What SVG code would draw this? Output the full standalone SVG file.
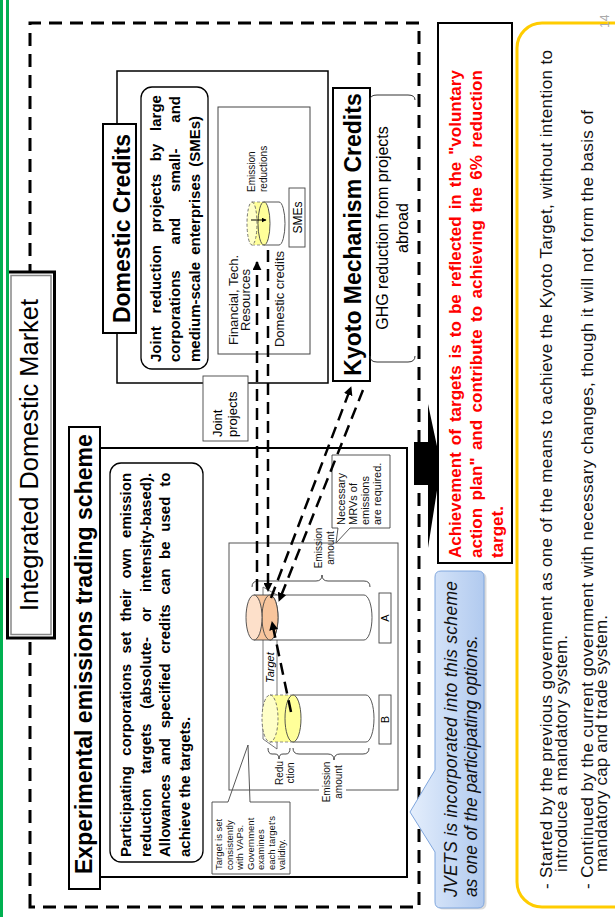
<svg xmlns="http://www.w3.org/2000/svg" width="615" height="917" viewBox="0 0 615 917">
<defs>
  <style>
    .f{font-family:"Liberation Sans",Arial,Helvetica,sans-serif}
    .b{font-weight:bold}
    .i{font-style:italic}
    .box{fill:#fff;stroke:#000;stroke-width:2}
    .thin{fill:#fff;stroke:#444;stroke-width:0.9}
    .dash{fill:none;stroke:#000;stroke-width:2.5;stroke-dasharray:12 7}
    .brace{fill:none;stroke:#333;stroke-width:0.9}
    .cyl{stroke:#444;stroke-width:0.9}
  </style>
  <marker id="arr" viewBox="0 0 10 10" refX="9" refY="5" markerWidth="3.6" markerHeight="3.6" orient="auto" markerUnits="strokeWidth">
    <path d="M0,0 L10,5 L0,10 z" fill="#000"/>
  </marker>
  <marker id="arrS" viewBox="0 0 10 10" refX="9" refY="5" markerWidth="5" markerHeight="5" orient="auto" markerUnits="strokeWidth">
    <path d="M0,0 L10,5 L0,10 z" fill="#000"/>
  </marker>
  <linearGradient id="blueFill" x1="0" y1="0" x2="0" y2="1">
    <stop offset="0" stop-color="#e4eefc"/>
    <stop offset="1" stop-color="#b1caef"/>
  </linearGradient>
</defs>

<rect x="0" y="0" width="615" height="917" fill="#fff"/>

<!-- slide content is laid out landscape and turned a quarter turn -->
<g transform="translate(0 917) rotate(-90)" class="f">

  <!-- outer dashed frame of the market -->
  <rect id="market-frame" x="10" y="30" width="884" height="389" fill="none" stroke="#000" stroke-width="3" stroke-dasharray="13 8"/>

  <!-- Experimental emissions trading scheme -->
  <g id="ets">
    <rect x="40" y="100" width="429" height="307" fill="#fff" stroke="#000" stroke-width="2"/>
    <rect x="28" y="69" width="462" height="31" class="box"/>
    <text x="43" y="92" font-size="23" class="b">Experimental emissions trading scheme</text>
    <rect x="55" y="110" width="399" height="93" rx="11" fill="#fff" stroke="#000" stroke-width="1.3"/>
    <g font-size="15" class="b">
      <text x="60" y="131" word-spacing="6.3">Participating corporations set their own emission</text>
      <text x="60" y="150.5" word-spacing="10.8">reduction targets (absolute- or intensity-based).</text>
      <text x="60" y="170" word-spacing="5.6">Allowances and specified credits can be used to</text>
      <text x="60" y="189.5">achieve the targets.</text>
    </g>
  </g>

  <!-- note on how targets are set -->
  <g id="target-note">
    <path d="M43,212 H115 V228 L172,248 L115,250 V290 H43 Z" class="thin"/>
    <g font-size="9.5" fill="#111">
      <text x="47" y="222">Target is set</text>
      <text x="47" y="232.5">consistently</text>
      <text x="47" y="243">with VAPs.</text>
      <text x="47" y="253.5">Government</text>
      <text x="47" y="264">examines</text>
      <text x="47" y="274.5">each target's</text>
      <text x="47" y="285">validity.</text>
    </g>
  </g>

  <!-- emission chart with cylinders A and B -->
  <g id="chart">
    <rect x="127" y="229" width="247" height="169" fill="none" stroke="#555" stroke-width="1"/>
    <polygon points="178,263 330,263 322,277 168,277" fill="#fff" stroke="#555" stroke-width="0.8"/>
    <text x="234" y="274" font-size="11" class="i">Target</text>
  </g>

  <g id="cylinder-b">
    <path d="M175,293 V366 A23.5,8 0 0 0 222,366 V293" fill="#fff" class="cyl"/>
    <path d="M175,270 V293 A23.5,8 0 0 0 222,293 V270 Z" fill="#ffff99"/>
    <path d="M175,270 V293 M222,270 V293" stroke="#777" stroke-width="0.8" stroke-dasharray="3 2"/>
    <ellipse cx="198.5" cy="293" rx="23.5" ry="8" fill="#ffff99" class="cyl"/>
    <ellipse cx="198.5" cy="270" rx="23.5" ry="8" fill="#ffffc8" stroke="#555" stroke-width="0.8" stroke-dasharray="3 2"/>
    <rect x="173" y="379" width="49" height="12" class="thin"/>
    <text x="197.5" y="389" font-size="11" text-anchor="middle">B</text>
  </g>

  <g id="cylinder-a">
    <path d="M277,270 V364 A22.5,8 0 0 0 322,364 V270" fill="#fff" class="cyl"/>
    <path d="M277,254 V270 A22.5,8 0 0 0 322,270 V254 Z" fill="#f8c59c" class="cyl"/>
    <ellipse cx="299.5" cy="270" rx="22.5" ry="8" fill="#f8c59c" class="cyl"/>
    <ellipse cx="299.5" cy="254" rx="22.5" ry="8" fill="#fde0ca" class="cyl"/>
    <rect x="274" y="379" width="50" height="12" class="thin"/>
    <text x="299" y="389" font-size="11" text-anchor="middle">A</text>
  </g>

  <!-- braces and their labels -->
  <g id="braces">
    <path class="brace" d="M330,252 Q336,252 336,258 V316 Q336,322 342,322 Q336,322 336,328 V364 Q336,370 330,370"/>
    <path class="brace" d="M169,293 Q163,293 163,299 V328 Q163,334 157,334 Q163,334 163,340 V363 Q163,369 169,369"/>
    <path class="brace" d="M169,268 Q163,268 163,272 V275 Q163,279 158,279 Q163,279 163,283 V286 Q163,290 169,290"/>
  </g>
  <g id="labels" font-size="10" text-anchor="middle" fill="#111">
    <text x="369" y="322">Emission</text>
    <text x="369" y="334">amount</text>
    <rect x="114" y="319" width="42" height="27" fill="#fff"/>
    <text x="135" y="330">Emission</text>
    <text x="135" y="342">amount</text>
    <text x="144" y="283">Redu</text>
    <text x="144" y="294">ction</text>
  </g>

  <!-- MRV requirement callout -->
  <g id="mrv-note">
    <path d="M389,332 H462 V390 H389 V350 L374,336 L389,338 Z" class="thin"/>
    <g font-size="11" fill="#111">
      <text x="392" y="345">Necessary</text>
      <text x="392" y="357">MRVs of</text>
      <text x="392" y="369">emissions</text>
      <text x="392" y="381">are required.</text>
    </g>
  </g>

  <!-- Domestic Credits -->
  <g id="domestic-credits">
    <rect x="534" y="117" width="312" height="211" fill="#fff" stroke="#000" stroke-width="1.5"/>
    <rect x="584" y="103" width="209" height="33" class="box"/>
    <text x="688.5" y="130" font-size="23" class="b" text-anchor="middle">Domestic Credits</text>
    <rect x="548" y="141" width="282" height="67" rx="11" fill="#fff" stroke="#000" stroke-width="1.3"/>
    <g font-size="15" class="b">
      <text x="555" y="160.5" word-spacing="8.6">Joint reduction projects by large</text>
      <text x="555" y="180" word-spacing="21.7">corporations and small- and</text>
      <text x="555" y="199.5" word-spacing="3">medium-scale enterprises (SMEs)</text>
    </g>
    <rect x="563" y="218" width="247" height="92" fill="#fff" stroke="#444" stroke-width="1"/>
    <g font-size="13" text-anchor="middle" fill="#111">
      <text x="617" y="238">Financial, Tech.</text>
      <text x="617" y="250">Resources</text>
      <text x="618" y="284">Domestic credits</text>
    </g>
    <g font-size="10" fill="#111">
      <text x="725" y="255">Emission</text>
      <text x="725" y="267">reductions</text>
    </g>
    <path d="M672,264 V279 A21.5,6 0 0 0 715,279 V264" fill="#fff" class="cyl"/>
    <path d="M672,252 V264 A21.5,6 0 0 0 715,264 V252 Z" fill="#ffff99"/>
    <path d="M672,252 V264 M715,252 V264" stroke="#777" stroke-width="0.8" stroke-dasharray="3 2"/>
    <ellipse cx="693.5" cy="264" rx="21.5" ry="6" fill="#ffff99" class="cyl"/>
    <ellipse cx="693.5" cy="252" rx="21.5" ry="5" fill="#ffffc8" stroke="#555" stroke-width="0.8" stroke-dasharray="3 2"/>
    <line x1="697" y1="251" x2="697" y2="266" stroke="#000" stroke-width="1" marker-end="url(#arrS)"/>
    <rect x="670" y="289" width="59" height="16" class="thin"/>
    <text x="699.5" y="302" font-size="12" text-anchor="middle">SMEs</text>
  </g>

  <!-- Joint projects label -->
  <g id="joint-projects">
    <rect x="476" y="203" width="65" height="45" class="thin"/>
    <text x="480" y="222" font-size="13">Joint</text>
    <text x="480" y="237" font-size="13">projects</text>
  </g>

  <!-- Kyoto Mechanism Credits -->
  <g id="kyoto-credits">
    <rect x="536" y="333" width="293" height="37" class="box"/>
    <text x="682.5" y="361" font-size="23" class="b" text-anchor="middle">Kyoto Mechanism Credits</text>
    <path d="M561,370 Q555,370 555,377 V408 Q555,415 561,415 M817,370 Q822,370 822,377 V408 Q822,415 817,415" fill="none" stroke="#333" stroke-width="1"/>
    <text x="689" y="388" font-size="16" text-anchor="middle">GHG reduction from projects</text>
    <text x="689" y="408" font-size="16" text-anchor="middle">abroad</text>
  </g>

  <!-- credit and resource flows -->
  <g id="connectors">
    <path class="dash" d="M326,257 H655" marker-end="url(#arr)"/>
    <path class="dash" d="M667,268 H326" marker-end="url(#arr)"/>
    <path class="dash" d="M319,271 L530,351" marker-end="url(#arr)"/>
    <path class="dash" d="M527,363 L316,279" marker-end="url(#arr)"/>
    <path class="dash" d="M205,291 L295,272" stroke-dasharray="14 6" marker-end="url(#arr)"/>
  </g>

  <!-- block arrow down to the outcome -->
  <polygon id="outcome-arrow" points="432,414 475,414 475,428 513,428 452,441 369,428 432,428" fill="#000"/>

  <!-- outcome statement -->
  <g id="outcome">
    <rect x="354" y="438" width="540" height="74" fill="#fff" stroke="#000" stroke-width="2"/>
    <g font-size="17" class="b" fill="#ff0000">
      <text x="359" y="461" word-spacing="2.3">Achievement of targets is to be reflected in the "voluntary</text>
      <text x="359" y="482" word-spacing="2.7">action plan" and contribute to achieving the 6% reduction</text>
      <text x="359" y="503">target.</text>
    </g>
  </g>

  <!-- JVETS callout -->
  <g id="jvets-note">
    <path d="M15,435 H65 L105,410 L147,435 H340 Q346,435 346,441 V478 Q346,484 340,484 H15 Q9,484 9,478 V441 Q9,435 15,435 Z" fill="#999" opacity="0.35" transform="translate(-1.5 2.5)"/>
    <path d="M15,435 H65 L105,410 L147,435 H340 Q346,435 346,441 V478 Q346,484 340,484 H15 Q9,484 9,478 V441 Q9,435 15,435 Z" fill="url(#blueFill)" stroke="#7fa6de" stroke-width="1"/>
    <g font-size="17.5" class="i" fill="#111">
      <text x="20" y="457" textLength="316" lengthAdjust="spacing">JVETS is incorporated into this scheme</text>
      <text x="20" y="477" textLength="262" lengthAdjust="spacing">as one of the participating options.</text>
    </g>
  </g>

  <!-- background notes -->
  <g id="history-note">
    <rect x="10" y="517" width="884" height="130" rx="25" fill="#fff" stroke="#ffcc00" stroke-width="3"/>
    <g font-size="17" fill="#111">
      <text x="28" y="552" textLength="839" lengthAdjust="spacing">- Started by the previous government as one of the means to achieve the Kyoto Target, without intention to</text>
      <text x="45" y="567" textLength="237" lengthAdjust="spacing">introduce a mandatory system.</text>
      <text x="28" y="593" textLength="779" lengthAdjust="spacing">- Continued by the current government with necessary changes, though it will not form the basis of</text>
      <text x="45" y="607" textLength="257" lengthAdjust="spacing">mandatory cap and trade system.</text>
    </g>
  </g>

  <!-- slide title -->
  <g id="title">
    <rect x="279" y="7.5" width="366" height="47" fill="#fff" stroke="#000" stroke-width="3"/>
    <rect x="282.5" y="11" width="359" height="40" fill="none" stroke="#888" stroke-width="1.5"/>
    <text x="462" y="38" font-size="25" text-anchor="middle" textLength="312" lengthAdjust="spacingAndGlyphs">Integrated Domestic Market</text>
  </g>

  <!-- header rules -->
  <line x1="0" y1="1.5" x2="917" y2="1.5" stroke="#00b050" stroke-width="3"/>
  <line x1="339" y1="7.5" x2="917" y2="7.5" stroke="#00b050" stroke-width="3"/>

  <text x="889" y="609" font-size="12" fill="#aaa">14</text>
</g>
</svg>
